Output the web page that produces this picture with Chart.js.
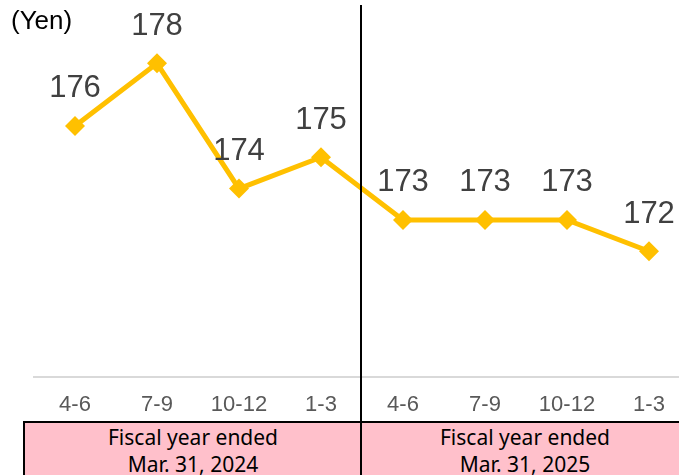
<!DOCTYPE html>
<html>
<head>
<meta charset="utf-8">
<script src="https://cdn.jsdelivr.net/npm/chart.js@4"></script>
<style>
  html, body { margin: 0; padding: 0; background: #fff; overflow: hidden; }
  #wrap { position: relative; width: 679px; height: 475px; overflow: hidden; }
  #chartBox { position: absolute; left: 0; top: 0; width: 700px; height: 433px; }
  .yen { position: absolute; left: 11px; top: 5px; font-size: 26px; font-family: "Liberation Sans", Arial, sans-serif; color: #000; }
  .fy { position: absolute; top: 421px; height: 70px; background: #ffc0cb; border: 2px solid #000;
        box-sizing: border-box; text-align: center; font-size: 21px; font-family: "Noto Sans", "Open Sans", sans-serif;
        color: #000; line-height: 27px; padding-top: 1px; }
  .divider { position: absolute; left: 360px; top: 5px; width: 2px; height: 480px; background: #000; }
</style>
</head>
<body>
<div id="wrap">
  <div id="chartBox"><canvas id="priceChart"></canvas></div>
  <div class="yen">(Yen)</div>
  <div class="fy" style="left:23px; width:340px;">Fiscal year ended<br>Mar. 31, 2024</div>
  <div class="fy" style="left:360px; width:330px;">Fiscal year ended<br>Mar. 31, 2025</div>
  <div class="divider"></div>
</div>
<script>
// Quarter labels
const quarters = ['4-6', '7-9', '10-12', '1-3', '4-6', '7-9', '10-12', '1-3'];
// Average price per quarter (Yen)
const prices = [176, 178, 174, 175, 173, 173, 173, 172];

// Draw value labels above each point
const valueLabels = {
    id: 'valueLabels',
    afterDatasetsDraw(chart) {
        const ctx = chart.ctx;
        const meta = chart.getDatasetMeta(0);
        ctx.save();
        ctx.font = '31px "Liberation Sans", Arial, sans-serif';
        ctx.fillStyle = '#404040';
        ctx.textAlign = 'center';
        ctx.textBaseline = 'middle';
        meta.data.forEach((pt, i) => {
            ctx.fillText(prices[i], pt.x, pt.y - 37);
        });
        ctx.restore();
    }
};

new Chart(document.getElementById('priceChart'), {
    type: 'line',
    data: {
        labels: quarters,
        datasets: [{
            data: prices,
            borderColor: '#ffc000',
            backgroundColor: '#ffc000',
            borderWidth: 5,
            pointStyle: 'rectRot',
            pointRadius: 10,
            pointBorderWidth: 0,
            tension: 0,
            clip: false
        }]
    },
    options: {
        responsive: true,
        maintainAspectRatio: false,
        animation: false,
        layout: { padding: { left: 34, right: 0, top: 0, bottom: 0 } },
        plugins: { legend: { display: false }, tooltip: { enabled: false } },
        scales: {
            x: {
                offset: true,
                grid: { display: false, drawTicks: false },
                border: { display: true, color: '#d9d9d9', width: 2 },
                ticks: {
                    color: '#595959',
                    font: { size: 22, family: '"Liberation Sans", Arial, sans-serif' },
                    padding: 15
                }
            },
            y: {
                display: false,
                min: 168,
                max: 179.7
            }
        }
    },
    plugins: [valueLabels]
});
</script>
</body>
</html>
